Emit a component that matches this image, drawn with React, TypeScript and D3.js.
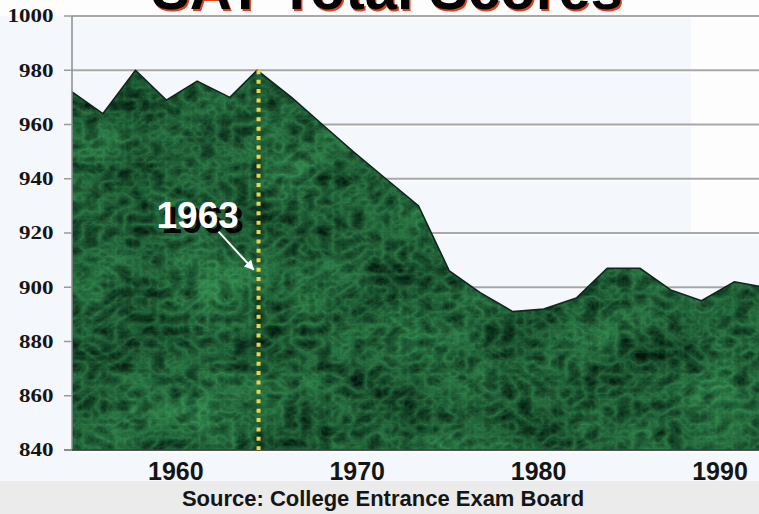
import React from "react";
import * as d3 from "d3";

// ---- data ----
const years = [
  1952.8, 1954.5, 1956.3, 1958.0, 1959.7, 1961.5, 1963.0, 1964.9, 1966.6, 1968.3,
  1970.1, 1971.9, 1973.6, 1975.3, 1977.1, 1978.8, 1980.6, 1982.3, 1984.1, 1985.8,
  1987.5, 1989.3, 1991.0,
];
const scores = [
  972, 964, 980, 969, 976, 970, 980, 970, 960, 950,
  940, 930, 906, 898, 891, 892, 896, 907, 907, 899,
  895, 902, 900,
];
const yTicks = [840, 860, 880, 900, 920, 940, 960, 980, 1000];
const xTicks = [1960, 1970, 1980, 1990];
const markYear = 1963;
const markLabel = "1963";
const title = "SAT Total Scores";
const source = "Source: College Entrance Exam Board";

const W = 759;
const H = 514;
const plot = { left: 72, right: 765, top: 16, bottom: 450 };

const SANS = "'Liberation Sans', Arial, Helvetica, sans-serif";
const SERIF = "'Liberation Serif', 'Times New Roman', serif";

export default function App() {
  const x = d3.scaleLinear().domain([years[0], years[years.length - 1]]).range([plot.left, plot.right]);
  const y = d3.scaleLinear().domain([840, 1000]).range([plot.bottom, plot.top]);

  const pts = years.map((yr, i) => ({ yr, v: scores[i] }));
  const areaGen = d3
    .area<{ yr: number; v: number }>()
    .x((d) => x(d.yr))
    .y0(y(840))
    .y1((d) => y(d.v));
  const lineGen = d3
    .line<{ yr: number; v: number }>()
    .x((d) => x(d.yr))
    .y((d) => y(d.v));
  const areaPath = areaGen(pts) || "";
  const linePath = lineGen(pts) || "";

  const mx = x(markYear) + 1.5;
  const peak = scores[years.indexOf(markYear)];

  // annotation arrow (from label towards the mark line)
  const ax1 = mx - 40, ay1 = y(920.5);
  const ax2 = mx - 5, ay2 = y(906.5);

  return (
    <svg
      width={W}
      height={H}
      style={{ position: "absolute", left: 0, top: 0, display: "block" }}
      xmlns="http://www.w3.org/2000/svg"
    >
      <defs>
        <filter
          id="marble"
          filterUnits="userSpaceOnUse"
          x="0"
          y="0"
          width={W + 20}
          height={H}
          colorInterpolationFilters="sRGB"
        >
          <feTurbulence type="turbulence" baseFrequency="0.06 0.08" numOctaves="4" seed="4" result="t1" />
          <feColorMatrix in="t1" type="matrix" values="1 0 0 0 0  1 0 0 0 0  1 0 0 0 0  0 0 0 0 1" result="g1" />
          <feTurbulence type="fractalNoise" baseFrequency="0.012 0.016" numOctaves="3" seed="11" result="t2" />
          <feColorMatrix in="t2" type="matrix" values="1 0 0 0 0  1 0 0 0 0  1 0 0 0 0  0 0 0 0 1" result="g2" />
          <feComposite in="g1" in2="g2" operator="arithmetic" k1="0" k2="0.58" k3="0.42" k4="0" result="mix" />
          <feColorMatrix
            in="mix"
            type="matrix"
            values="-0.32 0 0 0 0.245  -0.72 0 0 0 0.64  -0.42 0 0 0 0.37  0 0 0 0 1"
          />
        </filter>
        <clipPath id="areaClip">
          <path d={areaPath} />
        </clipPath>
        <marker id="arrowHead" viewBox="0 0 10 10" refX="9" refY="5" markerWidth="5" markerHeight="5" orient="auto">
          <path d="M0,0 L10,5 L0,10 z" fill="#ffffff" />
        </marker>
      </defs>

      {/* backgrounds */}
      <rect x={0} y={0} width={W} height={H} fill="#f4f7fb" />
      <rect x={0} y={0} width={W} height={plot.top} fill="#fdfdfd" />
      <rect x={691} y={0} width={W - 691} height={233} fill="#fdfdfd" />
      <rect x={0} y={481} width={W} height={H - 481} fill="#ebebeb" />

      {/* title (only its lower part is in view) */}
      <text x={388.5} y={10.5} textAnchor="middle" fontFamily={SANS} fontWeight="bold" fontSize={58} fill="#e0401c">
        {title}
      </text>
      <text x={387} y={9} textAnchor="middle" fontFamily={SANS} fontWeight="bold" fontSize={58} fill="#000000">
        {title}
      </text>

      {/* gridlines */}
      {yTicks.map((t) => (
        <g key={"g" + t}>
          <line x1={plot.left} x2={W} y1={y(t) + 2} y2={y(t) + 2} stroke="#ffffff" strokeWidth={1} />
          <line x1={plot.left} x2={W} y1={y(t)} y2={y(t)} stroke="#a8a8a8" strokeWidth={2} />
        </g>
      ))}

      {/* marble area */}
      <g clipPath="url(#areaClip)">
        <rect x={plot.left} y={plot.top} width={plot.right - plot.left} height={plot.bottom - plot.top} filter="url(#marble)" />
      </g>
      <path d={linePath} fill="none" stroke="#10261a" strokeWidth={1.6} strokeLinejoin="round" />

      {/* axes */}
      <line x1={plot.left} x2={plot.left} y1={plot.top} y2={plot.bottom} stroke="#8c8c8c" strokeWidth={1.5} />
      <line x1={64} x2={W} y1={plot.bottom} y2={plot.bottom} stroke="#3a3a3a" strokeWidth={1.5} />
      {yTicks.map((t) => (
        <line key={"t" + t} x1={64} x2={plot.left} y1={y(t)} y2={y(t)} stroke="#9a9a9a" strokeWidth={1.5} />
      ))}
      {yTicks.map((t) => (
        <text
          key={"l" + t}
          transform={`translate(53.5, ${y(t)}) scale(1.28, 1)`}
          textAnchor="end"
          dy="0.35em"
          fontFamily={SERIF}
          fontWeight="bold"
          fontSize={18}
          fill="#151515"
        >
          {t}
        </text>
      ))}
      {xTicks.map((t) => (
        <text
          key={"x" + t}
          x={x(t) + 1}
          y={480}
          textAnchor="end"
          fontFamily={SANS}
          fontWeight="bold"
          fontSize={25}
          fill="#151515"
        >
          {t}
        </text>
      ))}

      {/* 1963 marker */}
      <line
        x1={mx}
        x2={mx}
        y1={y(peak)}
        y2={plot.bottom}
        stroke="#f0d448"
        strokeWidth={4}
        strokeDasharray="4 5.4"
      />
      <text x={mx - 97} y={233} fontFamily={SANS} fontWeight="bold" fontSize={37} fill="#050505">
        {markLabel}
      </text>
      <text x={mx - 102} y={228} fontFamily={SANS} fontWeight="bold" fontSize={37} fill="#ffffff">
        {markLabel}
      </text>
      <line x1={ax1} y1={ay1} x2={ax2} y2={ay2} stroke="#ffffff" strokeWidth={2} markerEnd="url(#arrowHead)" />

      {/* source */}
      <text x={383} y={506} textAnchor="middle" fontFamily={SANS} fontWeight="bold" fontSize={22} fill="#151515">
        {source}
      </text>
    </svg>
  );
}
